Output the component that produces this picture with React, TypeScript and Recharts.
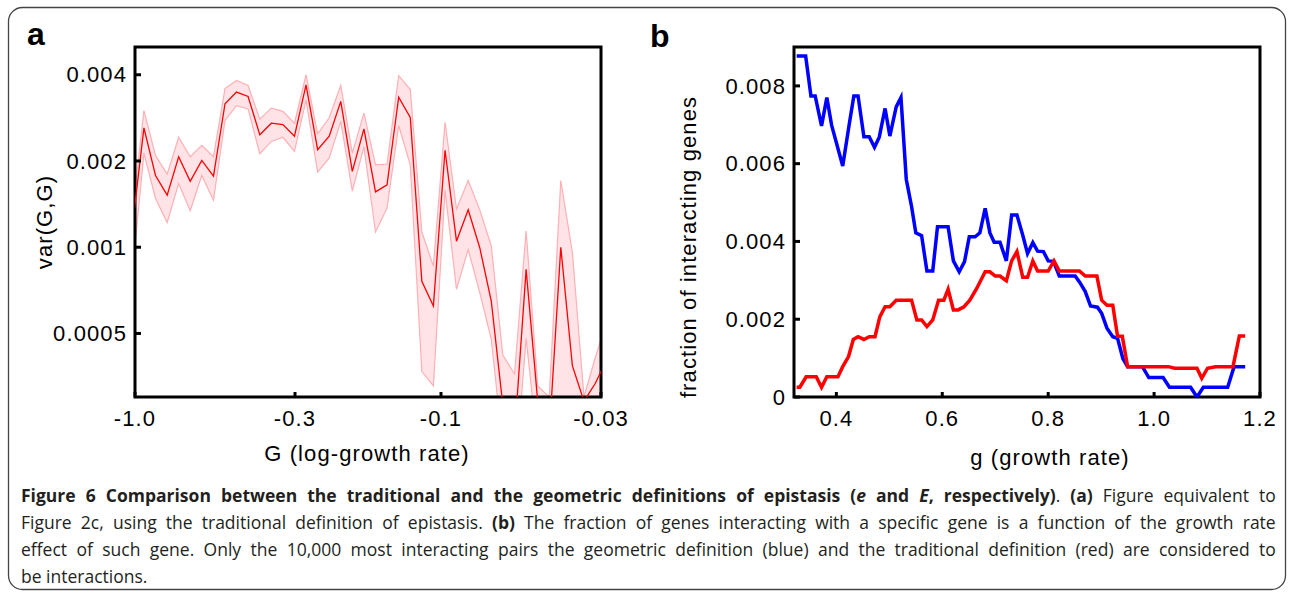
import React from 'react';
import { ComposedChart, LineChart, Line, Area, XAxis, YAxis, ReferenceArea } from 'recharts';

// ---------- Panel a data ----------
const gAbs = [1.020, 0.935, 0.857, 0.785, 0.720, 0.660, 0.605, 0.554, 0.508, 0.466, 0.427, 0.391, 0.3585, 0.3286, 0.3012, 0.2761, 0.2530, 0.2319, 0.2126, 0.1949, 0.1786, 0.1637, 0.1501, 0.1375, 0.1260, 0.1155, 0.1059, 0.0970, 0.0890, 0.0815, 0.0747, 0.0685, 0.0628, 0.0575, 0.0527, 0.0483, 0.0443, 0.0406, 0.0372, 0.0341, 0.0313, 0.0287];
const varMean = [0.00118, 0.00261, 0.00178, 0.00152, 0.00207, 0.00170, 0.00201, 0.00177, 0.00317, 0.00348, 0.00336, 0.00247, 0.00271, 0.00268, 0.00244, 0.00369, 0.00219, 0.00244, 0.00323, 0.00184, 0.00259, 0.00156, 0.00165, 0.00334, 0.00284, 0.00076, 0.000623, 0.00218, 0.00105, 0.00135, 0.000996, 0.000649, 0.000281, 0.00022, 0.000837, 0.00029, 0.00022, 0.00100, 0.000385, 0.00029, 0.000335, 0.000406];
const varHigh = [0.0013, 0.00300, 0.00209, 0.00180, 0.00242, 0.00207, 0.00227, 0.00207, 0.00358, 0.00382, 0.00367, 0.00280, 0.00306, 0.00298, 0.00271, 0.00400, 0.00249, 0.00283, 0.00367, 0.00213, 0.00294, 0.00194, 0.00195, 0.00397, 0.00355, 0.00113, 0.000859, 0.00273, 0.00136, 0.00171, 0.00135, 0.00101, 0.000420, 0.000361, 0.00114, 0.000328, 0.00030, 0.00171, 0.000957, 0.00030, 0.000413, 0.00055];
const varLow = [0.00082, 0.00213, 0.00148, 0.00122, 0.00167, 0.00134, 0.00178, 0.00146, 0.00277, 0.00312, 0.00304, 0.00212, 0.00234, 0.00242, 0.00216, 0.00327, 0.00183, 0.00205, 0.00275, 0.00157, 0.00224, 0.00113, 0.00137, 0.00266, 0.00194, 0.000368, 0.000328, 0.00158, 0.000713, 0.000982, 0.000694, 0.000477, 0.00020, 0.00015, 0.000481, 0.00020, 0.00015, 0.00028, 0.00020, 0.00020, 0.00025, 0.00030];
const aXTicks = [1, 0.3, 0.1, 0.03];
const aXTickLabels = ['-1.0', '-0.3', '-0.1', '-0.03'];
const aYTicks = [0.0005, 0.001, 0.002, 0.004];
const aYTickLabels = ['0.0005', '0.001', '0.002', '0.004'];
const aXDomain = [0.03, 1];
const aYDomain = [0.0003, 0.005];

// ---------- Panel b data ----------
const gBlue = [0.325, 0.342, 0.352, 0.360, 0.372, 0.382, 0.391, 0.412, 0.424, 0.433, 0.441, 0.452, 0.462, 0.472, 0.481, 0.492, 0.501, 0.513, 0.522, 0.532, 0.542, 0.550, 0.561, 0.571, 0.582, 0.591, 0.611, 0.621, 0.632, 0.642, 0.651, 0.662, 0.671, 0.681, 0.690, 0.698, 0.709, 0.721, 0.731, 0.741, 0.752, 0.761, 0.771, 0.780, 0.791, 0.800, 0.810, 0.821, 0.851, 0.860, 0.870, 0.880, 0.893, 0.901, 0.911, 0.922, 0.931, 0.941, 0.950, 0.978, 0.990, 1.017, 1.029, 1.069, 1.081, 1.093, 1.139, 1.151, 1.172];
const fracBlue = [0.00877, 0.00877, 0.00774, 0.00774, 0.00697, 0.00770, 0.00699, 0.00594, 0.00699, 0.00774, 0.00774, 0.00669, 0.00669, 0.00642, 0.00668, 0.00742, 0.00671, 0.00746, 0.00770, 0.00560, 0.00490, 0.00422, 0.00415, 0.00324, 0.00324, 0.00438, 0.00438, 0.00350, 0.00322, 0.00348, 0.00412, 0.00412, 0.00422, 0.00485, 0.00422, 0.00398, 0.00398, 0.00350, 0.00468, 0.00468, 0.00416, 0.00369, 0.00397, 0.00375, 0.00374, 0.00350, 0.00349, 0.00311, 0.00311, 0.00294, 0.00271, 0.00234, 0.00231, 0.00215, 0.00177, 0.00155, 0.00151, 0.00099, 0.00078, 0.00078, 0.00050, 0.00050, 0.00025, 0.00025, 0, 0.00025, 0.00025, 0.00078, 0.00078];
const gRed = [0.325, 0.331, 0.343, 0.362, 0.372, 0.382, 0.403, 0.412, 0.423, 0.432, 0.441, 0.452, 0.462, 0.473, 0.482, 0.492, 0.501, 0.513, 0.542, 0.552, 0.561, 0.571, 0.582, 0.593, 0.603, 0.611, 0.621, 0.630, 0.641, 0.652, 0.665, 0.681, 0.690, 0.700, 0.709, 0.721, 0.731, 0.741, 0.752, 0.761, 0.771, 0.780, 0.800, 0.811, 0.821, 0.859, 0.870, 0.892, 0.901, 0.911, 0.922, 0.931, 0.940, 0.950, 1.027, 1.039, 1.081, 1.090, 1.101, 1.116, 1.149, 1.161, 1.172];
const fracRed = [0.00025, 0.00025, 0.00052, 0.00052, 0.00025, 0.00052, 0.00052, 0.00078, 0.00104, 0.00148, 0.00155, 0.00148, 0.00155, 0.00155, 0.00206, 0.00232, 0.00232, 0.00249, 0.00249, 0.00198, 0.00198, 0.00181, 0.00198, 0.00249, 0.00249, 0.00277, 0.00224, 0.00224, 0.00232, 0.00249, 0.00279, 0.00322, 0.00322, 0.00311, 0.00311, 0.00299, 0.00350, 0.00374, 0.00308, 0.00308, 0.00350, 0.00324, 0.00324, 0.00350, 0.00324, 0.00324, 0.00311, 0.00311, 0.00249, 0.00236, 0.00236, 0.00156, 0.00156, 0.00078, 0.00078, 0.00074, 0.00074, 0.00048, 0.00074, 0.00078, 0.00078, 0.00157, 0.00157];
const bXTicks = [0.4, 0.6, 0.8, 1.0, 1.2];
const bXTickLabels = ['0.4', '0.6', '0.8', '1.0', '1.2'];
const bYTicks = [0, 0.002, 0.004, 0.006, 0.008];
const bYTickLabels = ['0', '0.002', '0.004', '0.006', '0.008'];
const bXDomain = [0.32, 1.2];
const bYDomain = [0, 0.009];

// ---------- Caption ----------
const captionLines = [
  '**Figure 6 Comparison between the traditional and the geometric definitions of epistasis (__e__ and __E__, respectively)**. **(a)** Figure equivalent to',
  'Figure 2c, using the traditional definition of epistasis. **(b)** The fraction of genes interacting with a specific gene is a function of the growth rate',
  'effect of such gene. Only the 10,000 most interacting pairs the geometric definition (blue) and the traditional definition (red) are considered to',
  'be interactions.',
];

const dataA = gAbs.map((g, i) => ({ g, mean: varMean[i], band: [varLow[i], varHigh[i]] }));
const dataBlue = gBlue.map((g, i) => ({ g, v: fracBlue[i] }));
const dataRed = gRed.map((g, i) => ({ g, v: fracRed[i] }));

const FONT = '"Liberation Sans", Arial, Helvetica, sans-serif';
const LS = 1.1;

const makeYTick = (ticks: number[], labels: string[]) => (props: any) => {
  const { x, y, payload } = props;
  const label = labels[ticks.indexOf(payload.value)];
  return (
    <g>
      <line x1={x} x2={x + 6} y1={y} y2={y} stroke="#000" strokeWidth={3} />
      <text x={x - 8} y={y} dy="0.35em" textAnchor="end" fontSize={22} letterSpacing={LS} fontFamily={FONT} fill="#000">{label}</text>
    </g>
  );
};

const makeXTick = (ticks: number[], labels: string[]) => (props: any) => {
  const { x, y, payload } = props;
  const label = labels[ticks.indexOf(payload.value)];
  return (
    <g>
      <line x1={x} x2={x} y1={y} y2={y - 5} stroke="#000" strokeWidth={3} />
      <text x={x} y={y + 13} dy="0.71em" textAnchor="middle" fontSize={22} letterSpacing={LS} fontFamily={FONT} fill="#000">{label}</text>
    </g>
  );
};

type Run = { t: string; b: boolean; i: boolean };
function parseLine(s: string): Run[][] {
  const words: Run[][] = [];
  let cur: Run[] = [];
  let bold = false, ital = false, buf = '';
  const flush = () => { if (buf) { cur.push({ t: buf, b: bold, i: ital }); buf = ''; } };
  for (let k = 0; k < s.length; k++) {
    if (s.startsWith('**', k)) { flush(); bold = !bold; k++; continue; }
    if (s.startsWith('__', k)) { flush(); ital = !ital; k++; continue; }
    const c = s[k];
    if (c === ' ') { flush(); if (cur.length) words.push(cur); cur = []; continue; }
    buf += c;
  }
  flush();
  if (cur.length) words.push(cur);
  return words;
}

function Caption() {
  return (
    <div style={{ position: 'absolute', left: 21, top: 482, width: 1255, fontFamily: '"Open Sans", "Noto Sans", sans-serif', fontSize: 17.5, color: '#231f20' }}>
      {captionLines.map((line, li) => {
        const words = parseLine(line);
        const last = li === captionLines.length - 1;
        return (
          <div key={li} style={{ display: 'flex', justifyContent: last ? 'flex-start' : 'space-between', gap: last ? '0.26em' : 0, height: 27, lineHeight: '27px', whiteSpace: 'nowrap' }}>
            {words.map((w, wi) => (
              <span key={wi}>
                {w.map((r, ri) => (
                  <span key={ri} style={{ fontWeight: r.b ? 700 : 400, fontStyle: r.i ? 'italic' : 'normal' }}>{r.t}</span>
                ))}
              </span>
            ))}
          </div>
        );
      })}
    </div>
  );
}

export default function App() {
  return (
    <div style={{ position: 'absolute', left: 0, top: 0, width: 1293, height: 593, background: '#fff', overflow: 'hidden' }}>
      <div style={{ position: 'absolute', left: 0, top: 0 }}>
        <ComposedChart width={640} height={470} data={dataA} margin={{ top: 47, right: 39, bottom: 33, left: 0 }}>
          <XAxis type="number" dataKey="g" scale="log" domain={aXDomain} reversed allowDataOverflow ticks={aXTicks} interval={0}
            height={40} tickSize={0} tickMargin={0} axisLine={false} tickLine={false} tick={makeXTick(aXTicks, aXTickLabels)} />
          <YAxis type="number" scale="log" domain={aYDomain} allowDataOverflow ticks={aYTicks} interval={0}
            width={135} tickSize={0} tickMargin={0} axisLine={false} tickLine={false} tick={makeYTick(aYTicks, aYTickLabels)} />
          <Area type="linear" dataKey="band" stroke="#ffb0b4" strokeWidth={1.2} fill="#ffe3e6" fillOpacity={1} isAnimationActive={false} dot={false} activeDot={false} />
          <Line type="linear" dataKey="mean" stroke="#ff0000" strokeWidth={1.3} dot={false} activeDot={false} isAnimationActive={false} />
          <ReferenceArea x1={aXDomain[1]} x2={aXDomain[0]} y1={aYDomain[0]} y2={aYDomain[1]} fill="none" stroke="#000" strokeWidth={3} ifOverflow="visible" />
        </ComposedChart>
      </div>
      <div style={{ position: 'absolute', left: 640, top: 0 }}>
        <LineChart width={653} height={470} margin={{ top: 47, right: 33, bottom: 33, left: 0 }}>
          <XAxis type="number" dataKey="g" domain={bXDomain} allowDataOverflow ticks={bXTicks} interval={0}
            height={40} tickSize={0} tickMargin={0} axisLine={false} tickLine={false} tick={makeXTick(bXTicks, bXTickLabels)} />
          <YAxis type="number" domain={bYDomain} allowDataOverflow ticks={bYTicks} interval={0}
            width={154} tickSize={0} tickMargin={0} axisLine={false} tickLine={false} tick={makeYTick(bYTicks, bYTickLabels)} />
          <Line data={dataBlue} type="linear" dataKey="v" stroke="#0000ff" strokeWidth={3.5} dot={false} activeDot={false} isAnimationActive={false} />
          <Line data={dataRed} type="linear" dataKey="v" stroke="#ff0000" strokeWidth={3.5} dot={false} activeDot={false} isAnimationActive={false} />
          <ReferenceArea x1={bXDomain[0]} x2={bXDomain[1]} y1={bYDomain[0]} y2={bYDomain[1]} fill="none" stroke="#000" strokeWidth={3} ifOverflow="visible" />
        </LineChart>
      </div>
      <svg width={1293} height={593} style={{ position: 'absolute', left: 0, top: 0, pointerEvents: 'none' }}>
        <rect x={8.5} y={7.5} width={1277} height={582} rx={14} ry={14} fill="none" stroke="#444" strokeWidth={1.3} />
        <text x={27} y={45} fontSize={32} fontWeight="bold" fontFamily={FONT} fill="#000">a</text>
        <text x={650} y={47} fontSize={32} fontWeight="bold" fontFamily={FONT} fill="#000">b</text>
        <text x={44} y={222} dy="0.35em" textAnchor="middle" transform="rotate(-90 44 222)" fontSize={22} letterSpacing={LS} fontFamily={FONT} fill="#000">var(G,G)</text>
        <text x={688} y={247} dy="0.35em" textAnchor="middle" transform="rotate(-90 688 247)" fontSize={22} letterSpacing={LS} fontFamily={FONT} fill="#000">fraction of interacting genes</text>
        <text x={367} y={453} dy="0.35em" textAnchor="middle" fontSize={22} letterSpacing={LS} fontFamily={FONT} fill="#000">G (log-growth rate)</text>
        <text x={1050} y={457} dy="0.35em" textAnchor="middle" fontSize={22} letterSpacing={LS} fontFamily={FONT} fill="#000">g (growth rate)</text>
      </svg>
      <Caption />
    </div>
  );
}
